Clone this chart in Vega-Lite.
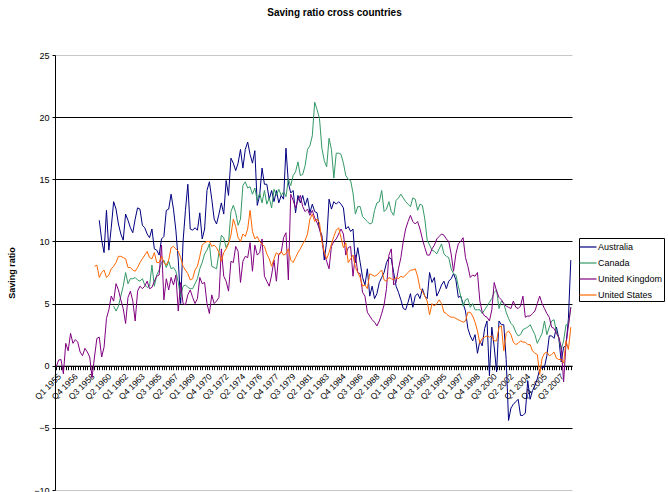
{
"$schema": "https://vega.github.io/schema/vega-lite/v6.json",
"width": 517, "height": 435,
"autosize": {"type": "none"},
"padding": {"left": 55, "top": 55, "right": 96, "bottom": 2},
"background": "white",
"title": {"text": "Saving ratio cross countries", "fontSize": 10, "font": "Liberation Sans", "fontWeight": "bold", "color": "black", "anchor": "middle", "dx": 21, "offset": 33},
"data": {"values": [
{"q":"Q1 1955","United Kingdom":-0.1},{"q":"Q2 1955","United Kingdom":0.45},{"q":"Q3 1955","United Kingdom":0.5},{"q":"Q4 1955","United Kingdom":-0.65},
{"q":"Q1 1956","United Kingdom":1.8},{"q":"Q2 1956","United Kingdom":1.2},{"q":"Q3 1956","United Kingdom":2.6},{"q":"Q4 1956","United Kingdom":1.8},
{"q":"Q1 1957","United Kingdom":2.1},{"q":"Q2 1957","United Kingdom":1.9},{"q":"Q3 1957","United Kingdom":1.1},{"q":"Q4 1957","United Kingdom":0.8},
{"q":"Q1 1958","United Kingdom":1.4},{"q":"Q2 1958","United Kingdom":1.1},{"q":"Q3 1958","United Kingdom":0.7},{"q":"Q4 1958","United Kingdom":-0.95},
{"q":"Q1 1959","United Kingdom":0.7,"United States":8.0},{"q":"Q2 1959","United Kingdom":2.2,"United States":8.1},{"q":"Q3 1959","Australia":11.7,"United Kingdom":2.3,"United States":7.1},{"q":"Q4 1959","Australia":10.1,"United Kingdom":0.7,"United States":7.5},
{"q":"Q1 1960","Australia":9.1,"United Kingdom":1.5,"United States":7.7},{"q":"Q2 1960","Australia":12.5,"United Kingdom":3.8,"United States":7.1},{"q":"Q3 1960","Australia":9.3,"United Kingdom":4.5,"United States":7.3},{"q":"Q4 1960","Australia":11.1,"United Kingdom":5.6,"United States":7.8},
{"q":"Q1 1961","Australia":13.2,"Canada":4.8,"United Kingdom":5.2,"United States":8.0},{"q":"Q2 1961","Australia":12.6,"Canada":4.4,"United Kingdom":6.6,"United States":8.3},{"q":"Q3 1961","Australia":11.4,"Canada":4.8,"United Kingdom":6.1,"United States":8.8},{"q":"Q4 1961","Australia":10.6,"Canada":5.6,"United Kingdom":5.3,"United States":8.8},
{"q":"Q1 1962","Australia":10.1,"Canada":6.4,"United Kingdom":4.6,"United States":8.7},{"q":"Q2 1962","Australia":12.2,"Canada":7.5,"United Kingdom":3.4,"United States":8.6},{"q":"Q3 1962","Australia":11.7,"Canada":6.6,"United Kingdom":5.5,"United States":7.9},{"q":"Q4 1962","Australia":11.1,"Canada":7.0,"United Kingdom":6.0,"United States":7.9},
{"q":"Q1 1963","Australia":10.7,"Canada":7.0,"United Kingdom":5.2,"United States":7.7},{"q":"Q2 1963","Australia":11.8,"Canada":7.1,"United Kingdom":3.6,"United States":7.6},{"q":"Q3 1963","Australia":12.7,"Canada":6.9,"United Kingdom":6.0,"United States":7.9},{"q":"Q4 1963","Australia":12.6,"Canada":6.8,"United Kingdom":6.4,"United States":8.3},
{"q":"Q1 1964","Australia":11.3,"Canada":7.0,"United Kingdom":6.2,"United States":8.6},{"q":"Q2 1964","Australia":11.1,"Canada":6.5,"United Kingdom":6.4,"United States":8.9},{"q":"Q3 1964","Australia":10.6,"Canada":6.3,"United Kingdom":6.8,"United States":9.2},{"q":"Q4 1964","Australia":10.3,"Canada":6.4,"United Kingdom":6.2,"United States":8.7},
{"q":"Q1 1965","Australia":11.0,"Canada":8.1,"United Kingdom":6.3,"United States":8.6},{"q":"Q2 1965","Australia":9.4,"Canada":6.4,"United Kingdom":6.8,"United States":9.1},{"q":"Q3 1965","Australia":9.3,"Canada":7.3,"United Kingdom":7.2,"United States":8.3},{"q":"Q4 1965","Australia":8.9,"Canada":7.7,"United Kingdom":7.3,"United States":8.3},
{"q":"Q1 1966","Australia":10.2,"Canada":8.3,"United Kingdom":9.7,"United States":8.8},{"q":"Q2 1966","Australia":10.4,"Canada":8.5,"United Kingdom":5.3,"United States":8.3},{"q":"Q3 1966","Australia":12.5,"Canada":7.9,"United Kingdom":7.0,"United States":8.1},{"q":"Q4 1966","Australia":12.6,"Canada":8.4,"United Kingdom":6.1,"United States":8.5},
{"q":"Q1 1967","Australia":13.8,"Canada":7.8,"United Kingdom":7.1,"United States":9.5},{"q":"Q2 1967","Australia":12.6,"Canada":7.9,"United Kingdom":6.5,"United States":9.6},{"q":"Q3 1967","Australia":10.9,"Canada":7.6,"United Kingdom":7.3,"United States":9.4},{"q":"Q4 1967","Australia":8.5,"Canada":6.7,"United Kingdom":4.4,"United States":9.2},
{"q":"Q1 1968","Australia":5.0,"Canada":5.5,"United Kingdom":6.7,"United States":8.7},{"q":"Q2 1968","Australia":10.0,"Canada":6.4,"United Kingdom":5.0,"United States":8.0},{"q":"Q3 1968","Australia":12.5,"Canada":6.5,"United Kingdom":4.9,"United States":7.7},{"q":"Q4 1968","Australia":14.6,"Canada":6.3,"United Kingdom":5.7,"United States":7.4},
{"q":"Q1 1969","Australia":11.0,"Canada":6.2,"United Kingdom":6.1,"United States":6.9},{"q":"Q2 1969","Australia":10.9,"Canada":6.2,"United Kingdom":5.5,"United States":7.0},{"q":"Q3 1969","Australia":11.1,"Canada":6.6,"United Kingdom":5.0,"United States":7.7},{"q":"Q4 1969","Australia":10.9,"Canada":7.0,"United Kingdom":5.4,"United States":8.0},
{"q":"Q1 1970","Australia":12.3,"Canada":7.8,"United Kingdom":7.1,"United States":8.8},{"q":"Q2 1970","Australia":10.2,"Canada":8.3,"United Kingdom":6.6,"United States":9.7},{"q":"Q3 1970","Australia":11.0,"Canada":9.0,"United Kingdom":6.7,"United States":9.9},{"q":"Q4 1970","Australia":14.1,"Canada":9.3,"United Kingdom":5.0,"United States":10.0},
{"q":"Q1 1971","Australia":14.8,"Canada":9.8,"United Kingdom":4.2,"United States":10.0},{"q":"Q2 1971","Australia":13.4,"Canada":8.0,"United Kingdom":5.7,"United States":9.6},{"q":"Q3 1971","Australia":11.8,"Canada":7.9,"United Kingdom":5.0,"United States":9.7},{"q":"Q4 1971","Australia":11.4,"Canada":7.8,"United Kingdom":5.2,"United States":9.5},
{"q":"Q1 1972","Australia":12.2,"Canada":9.1,"United Kingdom":5.5,"United States":9.1},{"q":"Q2 1972","Australia":13.1,"Canada":10.5,"United Kingdom":9.4,"United States":8.4},{"q":"Q3 1972","Australia":12.2,"Canada":10.3,"United Kingdom":7.2,"United States":9.1},{"q":"Q4 1972","Australia":14.9,"Canada":9.5,"United Kingdom":6.8,"United States":9.4},
{"q":"Q1 1973","Australia":13.7,"Canada":9.9,"United Kingdom":6.0,"United States":9.8},{"q":"Q2 1973","Australia":16.7,"Canada":12.4,"United Kingdom":8.4,"United States":10.5},{"q":"Q3 1973","Australia":16.3,"Canada":12.9,"United Kingdom":8.3,"United States":11.8},{"q":"Q4 1973","Australia":15.7,"Canada":12.3,"United Kingdom":9.6,"United States":11.2},
{"q":"Q1 1974","Australia":16.3,"Canada":11.3,"United Kingdom":9.2,"United States":10.3},{"q":"Q2 1974","Australia":17.4,"Canada":11.8,"United Kingdom":6.7,"United States":10.0},{"q":"Q3 1974","Australia":15.9,"Canada":14.5,"United Kingdom":8.4,"United States":10.6},{"q":"Q4 1974","Australia":17.4,"Canada":14.8,"United Kingdom":8.8,"United States":10.4},
{"q":"Q1 1975","Australia":18.0,"Canada":14.3,"United Kingdom":8.7,"United States":11.0},{"q":"Q2 1975","Australia":17.0,"Canada":14.4,"United Kingdom":9.9,"United States":12.5},{"q":"Q3 1975","Australia":16.3,"Canada":13.8,"United Kingdom":7.6,"United States":10.8},{"q":"Q4 1975","Australia":17.3,"Canada":14.3,"United Kingdom":9.7,"United States":10.2},
{"q":"Q1 1976","Australia":12.9,"Canada":13.3,"United Kingdom":8.9,"United States":10.4},{"q":"Q2 1976","Australia":13.7,"Canada":13.9,"United Kingdom":9.1,"United States":10.0},{"q":"Q3 1976","Australia":15.9,"Canada":13.1,"United Kingdom":10.2,"United States":9.8},{"q":"Q4 1976","Australia":14.6,"Canada":14.1,"United Kingdom":7.2,"United States":9.6},
{"q":"Q1 1977","Australia":14.6,"Canada":13.0,"United Kingdom":6.8,"United States":9.0},{"q":"Q2 1977","Australia":13.4,"Canada":13.5,"United Kingdom":6.4,"United States":8.6},{"q":"Q3 1977","Australia":14.1,"Canada":12.7,"United Kingdom":7.3,"United States":8.0},{"q":"Q4 1977","Australia":13.2,"Canada":14.2,"United Kingdom":8.5,"United States":8.6},
{"q":"Q1 1978","Australia":14.1,"Canada":13.7,"United Kingdom":6.8,"United States":9.1},{"q":"Q2 1978","Australia":13.1,"Canada":14.2,"United Kingdom":9.0,"United States":8.9},{"q":"Q3 1978","Australia":13.7,"Canada":13.7,"United Kingdom":9.1,"United States":9.2},{"q":"Q4 1978","Australia":13.4,"Canada":14.0,"United Kingdom":10.3,"United States":8.9},
{"q":"Q1 1979","Australia":17.5,"Canada":13.6,"United Kingdom":10.7,"United States":9.0},{"q":"Q2 1979","Australia":14.7,"Canada":15.0,"United Kingdom":6.9,"United States":9.4},{"q":"Q3 1979","Australia":13.9,"Canada":14.5,"United Kingdom":13.8,"United States":8.5},{"q":"Q4 1979","Australia":14.1,"Canada":15.3,"United Kingdom":13.3,"United States":8.3},
{"q":"Q1 1980","Australia":12.3,"Canada":15.6,"United Kingdom":12.7,"United States":8.7},{"q":"Q2 1980","Australia":13.7,"Canada":16.4,"United Kingdom":13.3,"United States":9.1},{"q":"Q3 1980","Australia":13.1,"Canada":15.3,"United Kingdom":13.7,"United States":9.4},{"q":"Q4 1980","Australia":13.7,"Canada":15.4,"United Kingdom":12.8,"United States":9.8},
{"q":"Q1 1981","Australia":12.9,"Canada":16.1,"United Kingdom":12.4,"United States":10.1},{"q":"Q2 1981","Australia":13.5,"Canada":17.4,"United Kingdom":12.6,"United States":10.6},{"q":"Q3 1981","Australia":12.3,"Canada":17.7,"United Kingdom":12.1,"United States":11.8},{"q":"Q4 1981","Australia":13.0,"Canada":18.5,"United Kingdom":12.5,"United States":12.2},
{"q":"Q1 1982","Australia":12.4,"Canada":21.2,"United Kingdom":11.9,"United States":11.6},{"q":"Q2 1982","Australia":12.3,"Canada":20.6,"United Kingdom":11.5,"United States":11.8},{"q":"Q3 1982","Australia":11.0,"Canada":19.9,"United Kingdom":11.0,"United States":11.5},{"q":"Q4 1982","Australia":10.5,"Canada":17.5,"United Kingdom":10.2,"United States":10.0},
{"q":"Q1 1983","Australia":8.5,"Canada":16.5,"United Kingdom":9.0,"United States":9.1},{"q":"Q2 1983","Australia":10.0,"Canada":16.0,"United Kingdom":8.4,"United States":8.6},{"q":"Q3 1983","Australia":13.4,"Canada":18.3,"United Kingdom":7.8,"United States":9.1},{"q":"Q4 1983","Australia":12.6,"Canada":17.4,"United Kingdom":9.6,"United States":9.8},
{"q":"Q1 1984","Australia":13.2,"Canada":15.1,"United Kingdom":10.0,"United States":10.4},{"q":"Q2 1984","Australia":13.0,"Canada":17.1,"United Kingdom":10.2,"United States":10.9},{"q":"Q3 1984","Australia":13.2,"Canada":17.1,"United Kingdom":10.6,"United States":11.1},{"q":"Q4 1984","Australia":13.0,"Canada":17.0,"United Kingdom":11.0,"United States":10.3},
{"q":"Q1 1985","Australia":12.7,"Canada":16.3,"United Kingdom":10.6,"United States":9.5},{"q":"Q2 1985","Australia":11.0,"Canada":15.3,"United Kingdom":8.9,"United States":9.9},{"q":"Q3 1985","Australia":11.2,"Canada":15.0,"United Kingdom":9.5,"United States":8.3},{"q":"Q4 1985","Australia":10.8,"Canada":14.9,"United Kingdom":9.6,"United States":8.6},
{"q":"Q1 1986","Australia":11.0,"Canada":13.9,"United Kingdom":7.2,"United States":8.9},{"q":"Q2 1986","Australia":8.3,"Canada":12.2,"United Kingdom":8.9,"United States":7.9},{"q":"Q3 1986","Australia":9.5,"Canada":12.8,"United Kingdom":7.5,"United States":7.5},{"q":"Q4 1986","Australia":8.3,"Canada":12.8,"United Kingdom":7.4,"United States":7.1},
{"q":"Q1 1987","Australia":7.1,"Canada":12.0,"United Kingdom":5.9,"United States":6.4},{"q":"Q2 1987","Australia":6.5,"Canada":11.8,"United Kingdom":5.6,"United States":6.5},{"q":"Q3 1987","Australia":7.8,"Canada":11.6,"United Kingdom":4.3,"United States":6.2},{"q":"Q4 1987","Australia":5.6,"Canada":11.4,"United Kingdom":4.0,"United States":7.4},
{"q":"Q1 1988","Australia":6.4,"Canada":11.5,"United Kingdom":3.7,"United States":7.3},{"q":"Q2 1988","Australia":5.4,"Canada":12.5,"United Kingdom":3.5,"United States":7.2},{"q":"Q3 1988","Australia":5.8,"Canada":13.1,"United Kingdom":3.2,"United States":7.3},{"q":"Q4 1988","Australia":6.7,"Canada":13.2,"United Kingdom":3.6,"United States":7.5},
{"q":"Q1 1989","Australia":7.1,"Canada":14.1,"United Kingdom":4.2,"United States":7.7},{"q":"Q2 1989","Australia":7.5,"Canada":12.4,"United Kingdom":4.9,"United States":6.9},{"q":"Q3 1989","Australia":8.3,"Canada":12.6,"United Kingdom":6.2,"United States":6.8},{"q":"Q4 1989","Australia":8.7,"Canada":13.2,"United Kingdom":8.9,"United States":7.1},
{"q":"Q1 1990","Australia":8.6,"Canada":12.4,"United Kingdom":9.4,"United States":7.0},{"q":"Q2 1990","Australia":7.5,"Canada":12.1,"United Kingdom":6.5,"United States":6.9},{"q":"Q3 1990","Australia":6.4,"Canada":13.3,"United Kingdom":6.7,"United States":7.1},{"q":"Q4 1990","Australia":5.9,"Canada":13.5,"United Kingdom":7.8,"United States":7.0},
{"q":"Q1 1991","Australia":5.3,"Canada":13.8,"United Kingdom":8.7,"United States":7.2},{"q":"Q2 1991","Australia":4.6,"Canada":13.5,"United Kingdom":10.0,"United States":7.1},{"q":"Q3 1991","Australia":4.5,"Canada":13.2,"United Kingdom":11.0,"United States":7.3},{"q":"Q4 1991","Australia":5.1,"Canada":13.0,"United Kingdom":11.6,"United States":7.5},
{"q":"Q1 1992","Australia":5.8,"Canada":12.8,"United Kingdom":12.1,"United States":7.7},{"q":"Q2 1992","Australia":4.7,"Canada":13.5,"United Kingdom":11.6,"United States":7.7},{"q":"Q3 1992","Australia":5.6,"Canada":13.4,"United Kingdom":11.4,"United States":7.8},{"q":"Q4 1992","Australia":5.8,"Canada":12.5,"United Kingdom":11.6,"United States":7.2},
{"q":"Q1 1993","Australia":5.4,"Canada":13.0,"United Kingdom":11.0,"United States":6.2},{"q":"Q2 1993","Australia":6.2,"Canada":12.9,"United Kingdom":10.2,"United States":6.0},{"q":"Q3 1993","Australia":5.6,"Canada":11.8,"United Kingdom":9.5,"United States":5.6},{"q":"Q4 1993","Australia":5.4,"Canada":10.1,"United Kingdom":8.9,"United States":5.2},
{"q":"Q1 1994","Australia":7.5,"Canada":9.7,"United Kingdom":8.9,"United States":4.1},{"q":"Q2 1994","Australia":6.7,"Canada":9.3,"United Kingdom":9.4,"United States":5.0},{"q":"Q3 1994","Australia":7.1,"Canada":9.2,"United Kingdom":9.7,"United States":4.8},{"q":"Q4 1994","Australia":5.6,"Canada":9.0,"United Kingdom":10.2,"United States":5.0},
{"q":"Q1 1995","Australia":6.0,"Canada":9.4,"United Kingdom":10.4,"United States":5.3},{"q":"Q2 1995","Australia":6.5,"Canada":9.8,"United Kingdom":10.6,"United States":5.0},{"q":"Q3 1995","Australia":6.8,"Canada":9.0,"United Kingdom":10.5,"United States":4.3},{"q":"Q4 1995","Australia":6.2,"Canada":8.8,"United Kingdom":10.2,"United States":4.2},
{"q":"Q1 1996","Australia":6.8,"Canada":8.7,"United Kingdom":10.0,"United States":4.0},{"q":"Q2 1996","Australia":7.0,"Canada":7.8,"United Kingdom":9.0,"United States":3.9},{"q":"Q3 1996","Australia":7.4,"Canada":7.4,"United Kingdom":7.6,"United States":3.9},{"q":"Q4 1996","Australia":6.9,"Canada":7.3,"United Kingdom":9.0,"United States":3.8},
{"q":"Q1 1997","Australia":5.5,"Canada":6.4,"United Kingdom":9.8,"United States":3.7},{"q":"Q2 1997","Australia":5.6,"Canada":5.6,"United Kingdom":10.0,"United States":3.6},{"q":"Q3 1997","Australia":5.0,"Canada":4.8,"United Kingdom":10.3,"United States":3.5},{"q":"Q4 1997","Australia":4.4,"Canada":5.3,"United Kingdom":8.7,"United States":3.6},
{"q":"Q1 1998","Australia":3.0,"Canada":5.4,"United Kingdom":8.0,"United States":4.3},{"q":"Q2 1998","Australia":2.4,"Canada":4.7,"United Kingdom":7.1,"United States":4.3},{"q":"Q3 1998","Australia":2.0,"Canada":5.0,"United Kingdom":7.3,"United States":4.0},{"q":"Q4 1998","Australia":2.5,"Canada":4.5,"United Kingdom":7.2,"United States":3.5},
{"q":"Q1 1999","Australia":1.0,"Canada":4.5,"United Kingdom":7.5,"United States":2.8},{"q":"Q2 1999","Australia":2.0,"Canada":4.5,"United Kingdom":5.2,"United States":1.8},{"q":"Q3 1999","Australia":1.6,"Canada":4.2,"United Kingdom":4.3,"United States":2.2},{"q":"Q4 1999","Australia":3.0,"Canada":4.5,"United Kingdom":4.0,"United States":2.3},
{"q":"Q1 2000","Australia":3.6,"Canada":4.8,"United Kingdom":3.9,"United States":2.4},{"q":"Q2 2000","Australia":-0.8,"Canada":5.1,"United Kingdom":3.6,"United States":2.3},{"q":"Q3 2000","Australia":3.1,"Canada":5.4,"United Kingdom":4.5,"United States":2.4},{"q":"Q4 2000","Australia":1.5,"Canada":5.9,"United Kingdom":6.7,"United States":2.0},
{"q":"Q1 2001","Australia":-0.5,"Canada":6.1,"United Kingdom":6.0,"United States":2.0},{"q":"Q2 2001","Australia":3.6,"Canada":4.6,"United Kingdom":5.5,"United States":3.1},{"q":"Q3 2001","Australia":3.3,"Canada":5.2,"United Kingdom":5.3,"United States":3.2},{"q":"Q4 2001","Australia":3.3,"Canada":5.0,"United Kingdom":5.0,"United States":1.2},
{"q":"Q1 2002","Australia":0.5,"Canada":4.3,"United Kingdom":4.8,"United States":2.6},{"q":"Q2 2002","Australia":-4.4,"Canada":3.8,"United Kingdom":4.7,"United States":2.8},{"q":"Q3 2002","Australia":-3.4,"Canada":3.4,"United Kingdom":4.6,"United States":2.5},{"q":"Q4 2002","Australia":-3.1,"Canada":3.2,"United Kingdom":5.2,"United States":1.9},
{"q":"Q1 2003","Australia":-2.9,"Canada":2.7,"United Kingdom":4.7,"United States":1.7},{"q":"Q2 2003","Australia":-2.7,"Canada":2.4,"United Kingdom":4.6,"United States":1.8},{"q":"Q3 2003","Australia":-4.0,"Canada":2.5,"United Kingdom":4.8,"United States":2.0},{"q":"Q4 2003","Australia":-4.0,"Canada":2.9,"United Kingdom":5.6,"United States":1.9},
{"q":"Q1 2004","Australia":-3.8,"Canada":3.0,"United Kingdom":3.9,"United States":1.9},{"q":"Q2 2004","Australia":-1.2,"Canada":3.1,"United Kingdom":4.0,"United States":1.7},{"q":"Q3 2004","Australia":-2.7,"Canada":3.3,"United Kingdom":4.0,"United States":1.7},{"q":"Q4 2004","Australia":-2.0,"Canada":2.9,"United Kingdom":4.2,"United States":1.2},
{"q":"Q1 2005","Australia":-1.6,"Canada":2.5,"United Kingdom":4.4,"United States":1.0},{"q":"Q2 2005","Australia":-1.05,"Canada":1.8,"United Kingdom":5.0,"United States":0.9},{"q":"Q3 2005","Australia":-0.3,"Canada":2.2,"United Kingdom":5.6,"United States":-0.7},{"q":"Q4 2005","Australia":-0.15,"Canada":2.6,"United Kingdom":5.0,"United States":0.6},
{"q":"Q1 2006","Australia":-0.1,"Canada":3.6,"United Kingdom":4.6,"United States":1.0},{"q":"Q2 2006","Australia":0.8,"Canada":2.5,"United Kingdom":4.2,"United States":1.1},{"q":"Q3 2006","Australia":2.4,"Canada":3.1,"United Kingdom":3.9,"United States":0.8},{"q":"Q4 2006","Australia":2.4,"Canada":3.6,"United Kingdom":3.1,"United States":0.9},
{"q":"Q1 2007","Australia":2.2,"Canada":3.7,"United Kingdom":3.0,"United States":1.1},{"q":"Q2 2007","Australia":3.1,"Canada":2.7,"United Kingdom":2.6,"United States":0.6},{"q":"Q3 2007","Australia":2.2,"Canada":2.2,"United Kingdom":2.3,"United States":0.5},{"q":"Q4 2007","Australia":0.3,"Canada":1.3,"United Kingdom":1.5,"United States":0.5},
{"q":"Q1 2008","Australia":1.5,"Canada":2.0,"United Kingdom":-1.3,"United States":0.2},{"q":"Q2 2008","Australia":1.6,"Canada":3.3,"United Kingdom":1.8,"United States":2.0},{"q":"Q3 2008","Australia":3.8,"Canada":3.3,"United Kingdom":3.2,"United States":1.3},{"q":"Q4 2008","Australia":8.5,"Canada":4.7,"United Kingdom":4.7,"United States":3.1}
]},
"transform": [{"fold": ["Australia", "Canada", "United Kingdom", "United States"], "as": ["country", "value"]}],
"mark": {"type": "line", "strokeWidth": 1},
"encoding": {
  "x": {"field": "q", "type": "ordinal", "sort": null,
    "scale": {"type": "point", "padding": 0.5},
    "axis": {"title": null, "offset": -124.3, "grid": false, "domainColor": "black", "tickColor": "black", "tickSize": 4, "labelAngle": -45, "labelFontSize": 8.5, "labelFont": "Liberation Sans", "labelColor": "black", "labelOverlap": false, "labelBound": false, "labelPadding": 2,
      "labelExpr": "indexof(['Q1 1955','Q4 1956','Q3 1958','Q2 1960','Q1 1962','Q4 1963','Q3 1965','Q2 1967','Q1 1969','Q4 1970','Q3 1972','Q2 1974','Q1 1976','Q4 1977','Q3 1979','Q2 1981','Q1 1983','Q4 1984','Q3 1986','Q2 1988','Q1 1990','Q4 1991','Q3 1993','Q2 1995','Q1 1997','Q4 1998','Q3 2000','Q2 2002','Q1 2004','Q4 2005','Q3 2007'], datum.value) >= 0 ? datum.value : ''"}},
  "y": {"field": "value", "type": "quantitative",
    "scale": {"domain": [-10, 25], "nice": false, "zero": false},
    "axis": {"title": "Saving ratio", "titleFontSize": 9, "titleFont": "Liberation Sans", "titleFontWeight": "bold", "titleColor": "black", "titlePadding": 17,
      "values": [-10, -5, 0, 5, 10, 15, 20, 25], "labelFontSize": 9, "labelFont": "Liberation Sans", "labelColor": "black", "labelPadding": 3,
      "tickSize": 3, "tickColor": "black", "domainColor": "black",
      "gridColor": {"condition": {"test": "datum.value === 25 || datum.value === -10", "value": "#c8c8c8"}, "value": "black"}}},
  "color": {"field": "country", "type": "nominal",
    "scale": {"domain": ["Australia", "Canada", "United Kingdom", "United States"], "range": ["#000080", "#339966", "#800080", "#FF6600"]},
    "legend": {"orient": "none", "legendX": 524, "legendY": 183, "title": null, "strokeColor": "black", "fillColor": "white", "padding": 1, "symbolType": "M-1.2,0H1.2", "symbolSize": 200, "symbolStrokeWidth": 1.2, "labelFontSize": 9, "labelFont": "Liberation Sans", "labelColor": "black", "rowPadding": 3, "labelOffset": 2}}
},
"config": {"view": {"stroke": null}, "font": "Liberation Sans"}
}
